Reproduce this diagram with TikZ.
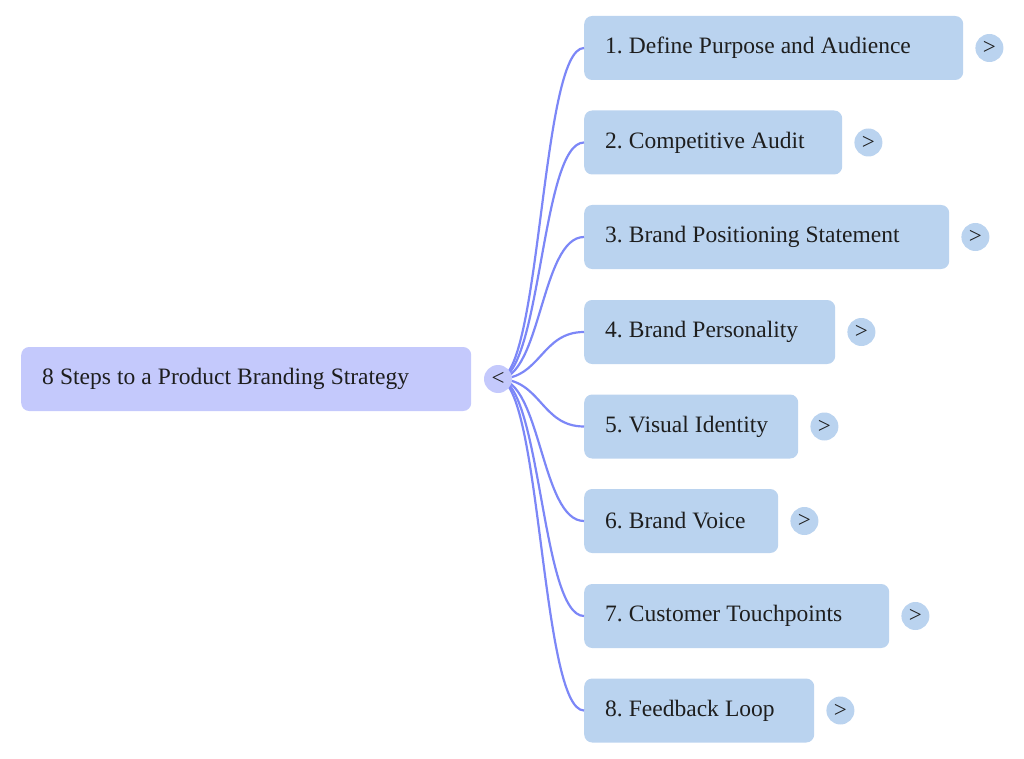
\documentclass[tikz,border=0pt]{standalone}
\usepackage{fontspec}
\setmainfont{Liberation Serif}
\usetikzlibrary{calc}
\definecolor{rootfill}{HTML}{C4C9FC}
\definecolor{childfill}{HTML}{BAD3EF}
\definecolor{linkcol}{HTML}{7C87F7}
\definecolor{txtcol}{HTML}{1E1E1E}
\tikzset{
  box/.style={rounded corners=8pt, anchor=west, minimum height=64pt, inner xsep=21pt, inner ysep=0pt, align=left, text=txtcol, font=\fontsize{23.5}{28}\selectfont, execute at begin node={\frenchspacing\spaceskip 6.1pt\relax\xspaceskip 6.1pt\relax}},
  rootbox/.style={box, fill=rootfill},
  childbox/.style={box, fill=childfill},
  togglebtn/.style={circle, minimum size=28pt, inner sep=0pt, text=txtcol, font=\fontsize{23}{24}\selectfont},
  link/.style={draw=linkcol, line width=2.2pt},
}
\begin{document}
\begin{tikzpicture}[x=1pt, y=-1pt]
\useasboundingbox (0,0) rectangle (1024,759);
\node[rootbox, text width=408pt] (root) at (21,379) {8 Steps to a Product Branding Strategy};
\node[childbox, text width=337pt] (c1) at (584,48) {1. Define Purpose and Audience};
\node[childbox, text width=216pt] (c2) at (584,142.5) {2. Competitive Audit};
\node[childbox, text width=323pt] (c3) at (584,237) {3. Brand Positioning Statement};
\node[childbox, text width=209pt] (c4) at (584,332) {4. Brand Personality};
\node[childbox, text width=172pt] (c5) at (584,426.5) {5. Visual Identity};
\node[childbox, text width=152pt] (c6) at (584,521) {6. Brand Voice};
\node[childbox, text width=263pt] (c7) at (584,616) {7. Customer Touchpoints};
\node[childbox, text width=188pt] (c8) at (584,710.5) {8. Feedback Loop};
\coordinate (s) at (498,379);
\foreach \i in {1,...,8}{
  \draw[link] (s) .. controls ($(s)+(43,0)$) and ($(c\i.west)+(-43,0)$) .. (c\i.west);
}
\node[togglebtn, fill=rootfill] (rt) at (s) {<};
\node[togglebtn, fill=childfill] (t1) at ($(c1.east)+(26,0)$) {>};
\node[togglebtn, fill=childfill] (t2) at ($(c2.east)+(26,0)$) {>};
\node[togglebtn, fill=childfill] (t3) at ($(c3.east)+(26,0)$) {>};
\node[togglebtn, fill=childfill] (t4) at ($(c4.east)+(26,0)$) {>};
\node[togglebtn, fill=childfill] (t5) at ($(c5.east)+(26,0)$) {>};
\node[togglebtn, fill=childfill] (t6) at ($(c6.east)+(26,0)$) {>};
\node[togglebtn, fill=childfill] (t7) at ($(c7.east)+(26,0)$) {>};
\node[togglebtn, fill=childfill] (t8) at ($(c8.east)+(26,0)$) {>};
\end{tikzpicture}
\end{document}
